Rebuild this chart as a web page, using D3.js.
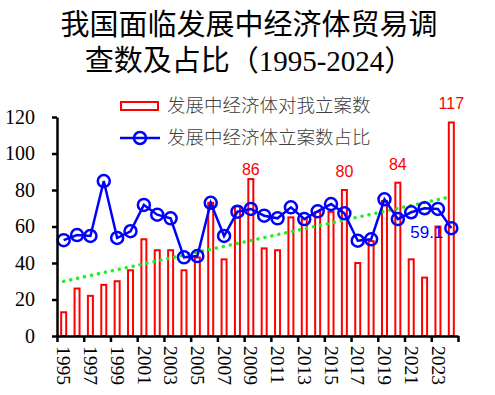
<!DOCTYPE html>
<html>
<head>
<meta charset="utf-8">
<script src="https://cdn.jsdelivr.net/npm/d3@7"></script>
<style>
  body { margin: 0; background: #fff; }
  svg { display: block; }
</style>
</head>
<body>
<div id="chart"></div>
<script>
// data
var years = d3.range(1995, 2025);
var caseCounts = [13, 26, 22, 28, 30, 36, 53, 47, 47, 36,
                  43, 73, 42, 71, 86, 48, 47, 65, 64, 68,
                  68, 80, 40, 52, 74, 84, 42, 32, 60, 117];
var caseShare = [52.5, 55.3, 54.8, 84.9, 53.7, 57.4, 71.8, 66.5, 64.5, 43.1,
                 43.8, 73.0, 54.8, 68.1, 69.6, 65.9, 64.5, 70.5, 64.1, 68.3,
                 72.3, 67.2, 52.2, 53.0, 74.9, 64.1, 67.8, 70.0, 69.6, 59.1];
var yTicks = [0, 20, 40, 60, 80, 100, 120];
var xTickYears = d3.range(1995, 2024, 2);
var countLabels = [2009, 2016, 2020, 2024];
var shareLabels = [2024];
var titleLines = ["我国面临发展中经济体贸易调", "查数及占比（1995-2024）"];
var legendNames = ["发展中经济体对我立案数", "发展中经济体立案数占比"];

var width = 495, height = 395;
var plot = {left: 57, right: 458, top: 117, bottom: 336};

var svg = d3.select('#chart').append('svg')
    .attr('width', width)
    .attr('height', height);

// scales
var x = d3.scaleLinear().domain([1995, 2025]).range([plot.left, plot.right]);
var y = d3.scaleLinear().domain([0, 120]).range([plot.bottom, plot.top]);
var step = x(1996) - x(1995);
var barW = 5;

// title
svg.append('g').selectAll('text')
    .data(titleLines)
    .enter()
    .append('text')
    .attr('x', 249)
    .attr('y', function(d, i) { return 35 + i * 36; })
    .attr('text-anchor', 'middle')
    .attr('font-family', '"Liberation Serif", "Noto Sans CJK SC"')
    .attr('font-size', 29)
    .attr('font-weight', 400)
    .attr('fill', '#000')
    .text(function(d) { return d; });

// bars
svg.append('g').selectAll('rect')
    .data(caseCounts)
    .enter()
    .append('rect')
    .attr('x', function(d, i) { return x(years[i]) + step / 2 - barW / 2; })
    .attr('y', function(d) { return y(d); })
    .attr('width', barW)
    .attr('height', function(d) { return y(0) - y(d); })
    .attr('fill', 'none')
    .attr('stroke', '#ff0000')
    .attr('stroke-width', 2);

// linear trend of the counts (least squares, like the spreadsheet trendline)
var n = caseCounts.length;
var mx = d3.mean(years), my = d3.mean(caseCounts);
var sxy = d3.sum(years, function(yr, i) { return (yr - mx) * (caseCounts[i] - my); });
var sxx = d3.sum(years, function(yr) { return (yr - mx) * (yr - mx); });
var slope = sxy / sxx;
var trend = [years[0], years[n - 1]].map(function(yr) {
    return {year: yr, value: my + slope * (yr - mx)};
});
svg.append('path')
    .datum(trend)
    .attr('d', d3.line()
        .x(function(d) { return x(d.year) + step / 2; })
        .y(function(d) { return y(d.value); }))
    .attr('fill', 'none')
    .attr('stroke', '#22ee22')
    .attr('stroke-width', 3.5)
    .attr('stroke-linecap', 'round')
    .attr('stroke-dasharray', '0.1 7');

// share line
var shareData = caseShare.map(function(v, i) { return {year: years[i], value: v}; });
svg.append('path')
    .datum(shareData)
    .attr('d', d3.line()
        .x(function(d) { return x(d.year) + step / 2; })
        .y(function(d) { return y(d.value); }))
    .attr('fill', 'none')
    .attr('stroke', '#0000ff')
    .attr('stroke-width', 2.5);

svg.append('g').selectAll('circle')
    .data(shareData)
    .enter()
    .append('circle')
    .attr('cx', function(d) { return x(d.year) + step / 2; })
    .attr('cy', function(d) { return y(d.value); })
    .attr('r', 6)
    .attr('fill', 'none')
    .attr('stroke', '#0000ff')
    .attr('stroke-width', 2.5);

// data labels
svg.append('g').selectAll('text')
    .data(countLabels)
    .enter()
    .append('text')
    .attr('x', function(d) { return x(d) + step / 2; })
    .attr('y', function(d) {
        var v = caseCounts[years.indexOf(d)];
        return y(v) - (d === 2009 ? 4 : 13);
    })
    .attr('text-anchor', 'middle')
    .attr('font-family', '"Liberation Sans", sans-serif')
    .attr('font-size', 16)
    .attr('fill', '#ff0000')
    .text(function(d) { return caseCounts[years.indexOf(d)]; });

svg.append('g').selectAll('text')
    .data(shareLabels)
    .enter()
    .append('text')
    .attr('x', function(d) { return x(d) + step / 2 - 8; })
    .attr('y', function(d) { return y(caseShare[years.indexOf(d)]) + 10; })
    .attr('text-anchor', 'end')
    .attr('font-family', '"Liberation Sans", sans-serif')
    .attr('font-size', 17)
    .attr('fill', '#0000ff')
    .text(function(d) { return caseShare[years.indexOf(d)]; });

// axes
var yAxis = d3.axisLeft(y).tickValues(yTicks).tickSize(5).tickSizeOuter(0);
var gy = svg.append('g')
    .attr('transform', 'translate(' + plot.left + ',0)')
    .call(yAxis);
gy.selectAll('text')
    .attr('x', -22)
    .attr('font-family', '"Liberation Serif", serif')
    .attr('font-size', 20)
    .attr('fill', '#000');

var xAxis = d3.axisBottom(x).tickValues(xTickYears.concat([2025])).tickSize(6).tickSizeOuter(0)
    .tickFormat(function(d) { return d === 2025 ? '' : d; });
var gx = svg.append('g')
    .attr('transform', 'translate(0,' + plot.bottom + ')')
    .call(xAxis);
gx.selectAll('text')
    .attr('transform', 'translate(' + (step / 2) + ',10) rotate(90)')
    .attr('x', 0)
    .attr('y', 0)
    .attr('dy', '0.35em')
    .attr('text-anchor', 'start')
    .attr('font-family', '"Liberation Serif", serif')
    .attr('font-size', 19.5)
    .attr('fill', '#000');

svg.selectAll('.domain').attr('stroke', '#000').attr('stroke-width', 2.5);
svg.selectAll('.tick line').attr('stroke', '#000').attr('stroke-width', 2.5);

// legend
var legend = svg.append('g');
legend.append('rect')
    .attr('x', 121).attr('y', 102)
    .attr('width', 37).attr('height', 8)
    .attr('fill', 'none')
    .attr('stroke', '#ff0000')
    .attr('stroke-width', 2);
legend.append('line')
    .attr('x1', 120).attr('x2', 160)
    .attr('y1', 138).attr('y2', 138)
    .attr('stroke', '#0000ff')
    .attr('stroke-width', 2.5);
legend.append('circle')
    .attr('cx', 140).attr('cy', 138).attr('r', 6)
    .attr('fill', 'none')
    .attr('stroke', '#0000ff')
    .attr('stroke-width', 2.5);
legend.selectAll('text')
    .data(legendNames)
    .enter()
    .append('text')
    .attr('x', 167)
    .attr('y', function(d, i) { return 106 + i * 32; })
    .attr('dy', '0.35em')
    .attr('font-family', '"Noto Sans CJK SC"')
    .attr('font-size', 18.5)
    .attr('font-weight', 300)
    .attr('fill', '#404040')
    .text(function(d) { return d; });
</script>
</body>
</html>
